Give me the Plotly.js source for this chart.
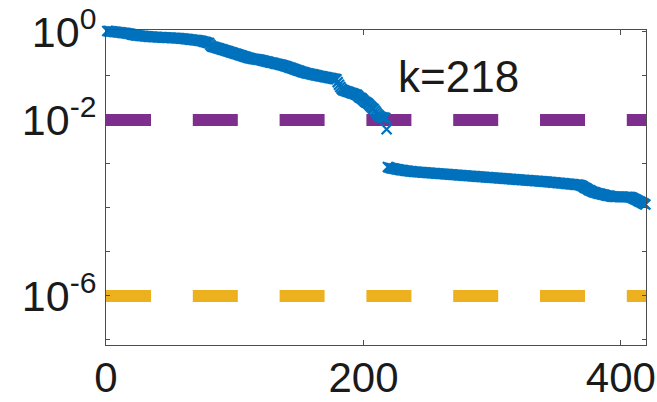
<!DOCTYPE html>
<html>
<head>
<meta charset="utf-8">
<script src="https://cdn.plot.ly/plotly-3.0.1.min.js"></script>
<style>
  html, body { margin: 0; padding: 0; background: #fff; }
  #chart { width: 657px; height: 402px; }
</style>
</head>
<body>
<div id="chart"></div>
<script>
// log10 of the sorted values, indices 1..218 (above the jump)
const expHead = [
  0.022, 0.02, 0.016, 0.013, 0.01, 0.006, 0.003, 0.0, -0.004, -0.008,
  -0.011, -0.015, -0.019, -0.022, -0.026, -0.03, -0.035, -0.04, -0.046,
  -0.055, -0.062, -0.068, -0.073, -0.077, -0.08, -0.084, -0.087, -0.09, -0.093,
  -0.096, -0.099, -0.102, -0.105, -0.107,
  -0.109, -0.111, -0.112, -0.114, -0.116, -0.117, -0.119, -0.12, -0.122, -0.123,
  -0.125, -0.126, -0.128, -0.129, -0.131, -0.132, -0.134, -0.135, -0.137, -0.138,
  -0.14, -0.142, -0.144,
  -0.147, -0.15, -0.153, -0.156, -0.16, -0.163, -0.167, -0.17, -0.174, -0.177,
  -0.181, -0.184, -0.188, -0.191, -0.195, -0.198,
  -0.205, -0.212, -0.22, -0.228, -0.236, -0.245, -0.25, -0.29, -0.325, -0.335,
  -0.343, -0.352, -0.36, -0.369, -0.378, -0.387, -0.396, -0.405, -0.414, -0.423,
  -0.432, -0.441, -0.45, -0.459, -0.469, -0.478,
  -0.487, -0.496, -0.505, -0.515, -0.524, -0.533, -0.543, -0.552, -0.561, -0.571,
  -0.58, -0.589, -0.598,
  -0.603, -0.608, -0.613, -0.618, -0.622, -0.627, -0.632, -0.637,
  -0.644, -0.651, -0.658, -0.665, -0.672, -0.679, -0.686, -0.693, -0.7, -0.707,
  -0.714, -0.72, -0.727, -0.734, -0.741, -0.748, -0.755, -0.762,
  -0.772, -0.782, -0.792, -0.802, -0.812, -0.822, -0.832, -0.842, -0.852, -0.862,
  -0.872, -0.882, -0.892, -0.902, -0.912, -0.921, -0.93, -0.939,
  -0.945, -0.951, -0.957, -0.963, -0.969, -0.975, -0.981, -0.987, -0.993, -0.999,
  -1.005, -1.011, -1.017, -1.023,
  -1.029, -1.035, -1.04, -1.046, -1.051, -1.057, -1.062, -1.068, -1.075,
  -1.14, -1.2, -1.25, -1.29, -1.32,
  -1.33, -1.34, -1.35, -1.36, -1.37, -1.38, -1.39, -1.40, -1.41, -1.42, -1.43,
  -1.46, -1.49, -1.50, -1.52, -1.55, -1.58, -1.60, -1.614,
  -1.64, -1.67, -1.70, -1.73, -1.75,
  -1.79, -1.83, -1.87, -1.90, -1.925,
  -1.94, -1.945, -1.95, -1.955,
  -2.21
];

// log10 of the sorted values, indices 219..419 (below the jump)
const expTail = [
  -3.07, -3.08, -3.09, -3.097, -3.104, -3.11, -3.115, -3.12, -3.125, -3.13,
  -3.135, -3.14, -3.144, -3.148, -3.152, -3.156, -3.16, -3.164, -3.168, -3.172, -3.175,
  -3.177, -3.18, -3.182, -3.184, -3.186, -3.189, -3.191, -3.193, -3.195, -3.198,
  -3.2, -3.202, -3.204, -3.206, -3.209, -3.211, -3.213, -3.215, -3.218, -3.22,
  -3.222, -3.224, -3.226, -3.229, -3.231, -3.233, -3.235, -3.238, -3.24, -3.242,
  -3.244, -3.246, -3.249, -3.251, -3.253, -3.255, -3.258, -3.26, -3.262, -3.264,
  -3.266, -3.269, -3.271, -3.273, -3.275, -3.278, -3.28, -3.282, -3.284, -3.287, -3.289,
  -3.291, -3.293, -3.296, -3.298, -3.3, -3.302, -3.304, -3.307, -3.309, -3.311,
  -3.313, -3.315, -3.318, -3.32, -3.322, -3.324, -3.326, -3.329, -3.331, -3.333,
  -3.335, -3.337, -3.34, -3.342, -3.344, -3.346, -3.348, -3.351, -3.353, -3.355,
  -3.357, -3.359, -3.362, -3.364, -3.366, -3.368, -3.371, -3.373, -3.375, -3.377,
  -3.379, -3.382, -3.384, -3.386, -3.388, -3.39, -3.393, -3.395, -3.397, -3.399,
  -3.401, -3.403,
  -3.406, -3.409, -3.412, -3.415, -3.418, -3.42, -3.423, -3.426, -3.429, -3.432,
  -3.435, -3.438, -3.44, -3.443, -3.446, -3.449, -3.452, -3.455, -3.458, -3.461,
  -3.464, -3.467, -3.47, -3.472, -3.475, -3.478,
  -3.49, -3.5, -3.52, -3.54, -3.55, -3.57, -3.59, -3.6, -3.615, -3.63,
  -3.64, -3.65, -3.66, -3.665, -3.675, -3.68, -3.69, -3.695, -3.70, -3.71,
  -3.715, -3.72, -3.725, -3.73, -3.74, -3.744,
  -3.745, -3.745, -3.746, -3.746, -3.747, -3.747, -3.748, -3.748, -3.749, -3.749,
  -3.75, -3.75, -3.75,
  -3.76, -3.77, -3.785, -3.8, -3.815, -3.83, -3.845, -3.86, -3.875, -3.89,
  -3.905, -3.92
];

const tolUpper = 1e-2;   // purple dashed threshold
const tolLower = 1e-6;   // yellow dashed threshold
const kLabel = 'k=218';

const xTickVals = [0, 200, 400];
const xTickText = ['0', '200', '400'];
const yTickVals = [1, 1e-2, 1e-6];
const yTickText = ['10<sup>0</sup>', '10<sup>-2</sup>', '10<sup>-6</sup>'];
const yMinorVals = [1e-1, 1e-3, 1e-4, 1e-5, 1e-7];

const xMax = 419.5;

const exps = expHead.concat(expTail);
const idx = exps.map((_, i) => i + 1);
const vals = exps.map(e => Math.pow(10, e));

const fontFam = '"Liberation Sans", Arial, Helvetica, sans-serif';
const axisColor = '#4d4d4d';

const traces = [
  {
    x: [0, xMax], y: [tolUpper, tolUpper],
    mode: 'lines', type: 'scatter',
    line: { color: '#7E2F8E', width: 12, dash: '45px,41.8px' },
    hoverinfo: 'skip'
  },
  {
    x: [0, xMax], y: [tolLower, tolLower],
    mode: 'lines', type: 'scatter',
    line: { color: '#EDB120', width: 12, dash: '45px,41.8px' },
    hoverinfo: 'skip'
  },
  {
    x: idx, y: vals,
    mode: 'markers', type: 'scatter',
    cliponaxis: false,
    marker: {
      symbol: 'x-thin', size: 10, color: '#0072BD',
      line: { color: '#0072BD', width: 2.2 }
    }
  }
];

const layout = {
  width: 657, height: 402,
  margin: { l: 106, r: 11, t: 30, b: 57, pad: 0 },
  paper_bgcolor: '#ffffff',
  plot_bgcolor: '#ffffff',
  showlegend: false,
  font: { family: fontFam, color: '#1a1a1a' },
  xaxis: {
    range: [0, xMax],
    tickvals: xTickVals,
    ticktext: xTickText,
    ticks: 'inside', ticklen: 5, tickwidth: 1, tickcolor: axisColor,
    ticklabelstandoff: -4,
    showline: true, linecolor: axisColor, linewidth: 1, mirror: 'ticks',
    showgrid: false, zeroline: false,
    tickfont: { size: 42, family: fontFam, color: '#1a1a1a' }
  },
  yaxis: {
    type: 'log',
    range: [-7.114, 0.045],
    tickvals: yTickVals,
    ticktext: yTickText,
    ticks: 'inside', ticklen: 4, tickwidth: 1, tickcolor: axisColor,
    minor: { tickvals: yMinorVals, ticks: 'inside', ticklen: 4, tickwidth: 1, tickcolor: axisColor, showgrid: false },
    showline: true, linecolor: axisColor, linewidth: 1, mirror: 'ticks',
    showgrid: false, zeroline: false,
    tickfont: { size: 43, family: fontFam, color: '#1a1a1a' }
  },
  annotations: [{
    text: kLabel,
    x: 274, y: -1.02, xref: 'x', yref: 'y',
    showarrow: false, xanchor: 'center', yanchor: 'middle',
    font: { size: 44, family: fontFam, color: '#1a1a1a' }
  }]
};

Plotly.newPlot('chart', traces, layout, { displayModeBar: false, staticPlot: true });
</script>
</body>
</html>
